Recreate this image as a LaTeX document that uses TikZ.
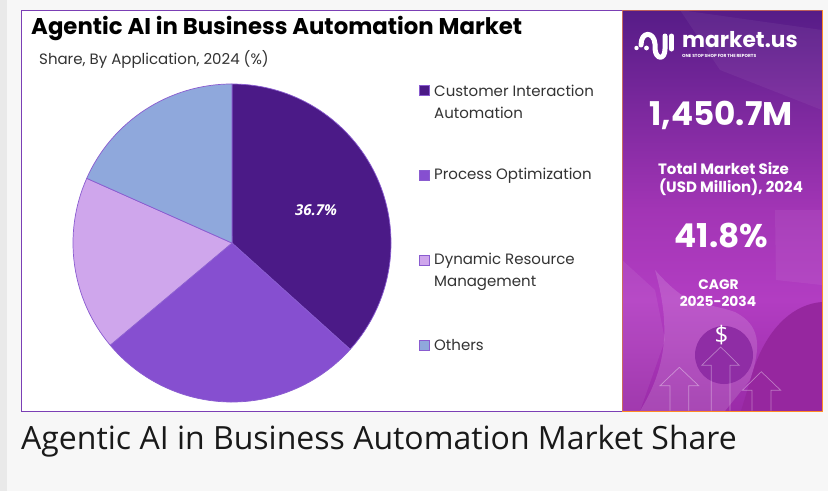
\documentclass[tikz,border=0pt]{standalone}
\usepackage{fontspec}
\setmainfont{Poppins}
\newfontfamily\opensans{Open Sans}
\definecolor{pgbg}{HTML}{F7F7F7}
\definecolor{strip}{HTML}{E9E9E9}
\definecolor{cardline}{HTML}{7B3FB5}
\definecolor{pa}{HTML}{4B1A87}
\definecolor{pb}{HTML}{864FD0}
\definecolor{pc}{HTML}{CFA6EC}
\definecolor{pd}{HTML}{8FA8DC}
\definecolor{pedge}{HTML}{8A5CD0}
\definecolor{ink}{HTML}{333333}
\definecolor{gradtop}{HTML}{561C87}
\definecolor{gradmid}{HTML}{A235B5}
\definecolor{gradlow}{HTML}{B23DC2}
\definecolor{gradbot}{HTML}{9A2BA8}
\definecolor{discfill}{HTML}{8F2DA5}
\definecolor{sweep}{HTML}{96279F}
\tikzset{
  wedge/.style={draw=pedge,line width=0.7pt,line join=round},
  legbox/.style={draw=pedge,line width=0.6pt,minimum size=10pt,inner sep=0pt,outer sep=0pt},
  legtext/.style={anchor=west,inner sep=0pt,font=\fontsize{15}{17}\selectfont,text=ink},
  paneltext/.style={inner sep=0pt,text=white,align=center},
  uparrow/.style={draw=white,draw opacity=0.38,line width=0.7pt,line join=miter}
}
\begin{document}
\begin{tikzpicture}[x=1pt,y=-1pt]
\useasboundingbox (0,0) rectangle (828,491);
\fill[pgbg] (0,0) rectangle (828,491);
\fill[strip] (0,0) rectangle (7,491);
\fill[white,draw=cardline,line width=1pt] (21.5,10) rectangle (622,411);
% pie
\coordinate (c) at (232,243);
\draw[wedge,fill=pa] (c) -- (232,84) arc[start angle=-90,delta angle=132,radius=159] -- cycle;
\draw[wedge,fill=pb] (c) -- (350.2,349.4) arc[start angle=42,delta angle=98,radius=159] -- cycle;
\draw[wedge,fill=pc] (c) -- (110.2,345.2) arc[start angle=140,delta angle=64,radius=159] -- cycle;
\draw[wedge,fill=pd] (c) -- (86.7,178.3) arc[start angle=204,delta angle=66,radius=159] -- cycle;
\node[inner sep=0pt,text=white] (pct) at (316,210) {\opensans\fontsize{15}{17}\selectfont\bfseries\itshape 36.7\%};
% titles
\node[anchor=west,inner sep=0pt,text=black] (title) at (31,28) {\fontsize{22.8}{26}\selectfont\bfseries Agentic AI in Business Automation Market};
\node[anchor=west,inner sep=0pt,text=ink] (sub) at (39,59) {\fontsize{15}{17}\selectfont Share, By Application, 2024 (\%)};
% legend
\node[legbox,fill=pa] (k1) at (424,90.5) {};
\node[legbox,fill=pb] (k2) at (424,175.5) {};
\node[legbox,fill=pc] (k3) at (424,260.5) {};
\node[legbox,fill=pd] (k4) at (424,345.5) {};
\node[legtext] (l1a) at (434,91) {Customer Interaction};
\node[legtext] (l1b) at (434,113) {Automation};
\node[legtext] (l2) at (434,176) {Process Optimization};
\node[legtext] (l3a) at (434,261) {Dynamic Resource};
\node[legtext] (l3b) at (434,283) {Management};
\node[legtext] (l4) at (434,345.5) {Others};
% right panel
\begin{scope}
\clip (622.5,10) rectangle (822,411);
\shade[top color=gradtop,bottom color=gradmid] (622,10) rectangle (822,210);
\shade[top color=gradmid,bottom color=gradlow] (622,210) rectangle (822,300);
\shade[top color=gradlow,bottom color=gradbot] (622,300) rectangle (822,411);
\fill[white,opacity=0.05] (680,10) -- (822,30) -- (822,110) -- (720,70) -- cycle;
\fill[white,opacity=0.06] (775,210) -- (822,210) -- (822,285) -- (776,280) -- cycle;
\fill[white,opacity=0.07] (622,260) -- (655,290) -- (665,340) -- (640,411) -- (622,411) -- cycle;
\fill[white,opacity=0.14] (655,270) .. controls (690,310) and (700,300) .. (735,312) .. controls (760,325) and (762,345) .. (750,380) -- (725,411) -- (640,411) .. controls (665,370) and (672,330) .. (655,270);
\fill[discfill] (724,355) circle[radius=29];
\fill[sweep] (822,302) .. controls (795,304) and (770,325) .. (755,365) -- (741,411) -- (822,411) -- cycle;
\end{scope}
\draw[draw=cardline!50!orange,line width=0.9pt] (622.5,10) -- (822,10);
\draw[draw=orange!80!pink,line width=0.9pt] (622,411) -- (822,411) -- (822,10);
\draw[draw=orange!55!pb,line width=0.9pt] (622,10) -- (622,411);
% arrows
\draw[uparrow] (670,410.5) -- (670,385.7) -- (660,385.7) -- (679.3,367.3) -- (698.7,385.7) -- (688.7,385.7) -- (688.7,410.5);
\draw[uparrow] (711.3,410.5) -- (711.3,365.3) -- (701.7,365.3) -- (720.7,347) -- (739.3,365.3) -- (730,365.3) -- (730,410.5);
\draw[uparrow] (752,410.5) -- (752,390.3) -- (742.3,390.3) -- (761.3,371.7) -- (780.7,390.3) -- (771,390.3) -- (771,410.5);
% logo
\draw[white,line width=5pt,line cap=round,line join=round] (641,45) .. controls (641,31) and (654,31) .. (655,44) -- (655,49) .. controls (656,60) and (665,60) .. (665,49) -- (665,36);
\draw[white,line width=5pt,line cap=round] (671.5,36) -- (671.5,49);
\fill[white] (636.5,48) circle[radius=2.2];
\fill[white] (646.5,48) circle[radius=2.4];
\node[paneltext,anchor=west] (brand) at (682,40) {\fontsize{21.7}{24}\selectfont\bfseries market.us};
\node[paneltext,anchor=west] (tag) at (682,56) {\fontsize{4.4}{5}\selectfont\bfseries ONE STOP SHOP FOR THE REPORTS};
\node[paneltext] (size) at (721,115) {\fontsize{32.7}{36}\selectfont\bfseries 1,450.7M};
\node[paneltext] (sizea) at (723.5,169) {\fontsize{15}{17}\selectfont\bfseries Total Market Size};
\node[paneltext] (sizeb) at (731,187) {\fontsize{15}{17}\selectfont\bfseries (USD Million), 2024};
\node[paneltext] (cagr) at (721.5,236) {\fontsize{32.8}{36}\selectfont\bfseries 41.8\%};
\node[paneltext] (cagra) at (718.5,284.5) {\fontsize{13.8}{16}\selectfont\bfseries CAGR};
\node[paneltext] (cagrb) at (718,301.5) {\fontsize{13.8}{16}\selectfont\bfseries 2025-2034};
\node[paneltext] (dollar) at (721.5,335) {\opensans\fontsize{24}{28}\selectfont \$};
% caption
\node[anchor=west,inner sep=0pt,text=black!90] (cap) at (21,441) {\opensans\fontsize{32}{37}\selectfont Agentic AI in Business Automation Market Share};
\end{tikzpicture}
\end{document}
